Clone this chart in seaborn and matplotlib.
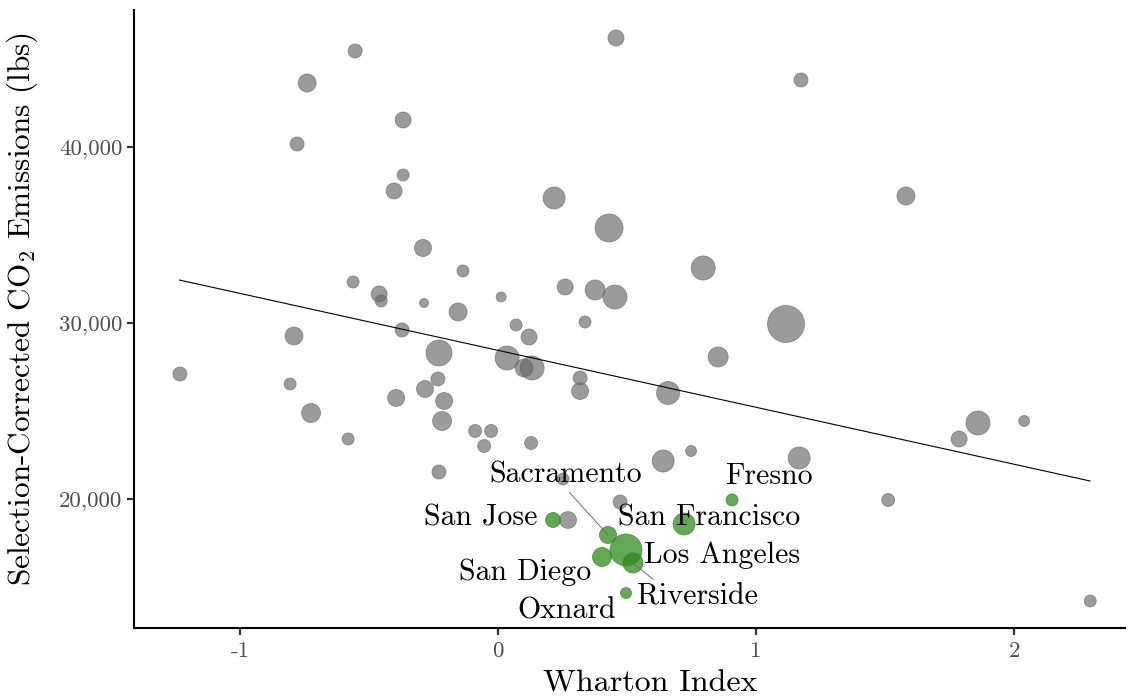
import numpy as np
import pandas as pd
import matplotlib
matplotlib.use("Agg")
import matplotlib.pyplot as plt
import seaborn as sns

# metro areas outside California (Wharton index, emissions, metro population in millions)
other_wharton = [-0.554, -0.740, 0.457, 1.174, -0.368, -0.779, -0.368, -0.403, 0.217, 1.581,
                 0.430, -0.291, 0.795, -0.562, -0.461, -0.453, -0.136, -0.287, 0.012, 0.260,
                 0.376, 0.453, 0.337, 0.070, -0.155, -0.791, -0.372, 0.120, 1.116, -0.229,
                 0.035, 0.101, 0.132, 0.853, -1.233, -0.806, -0.233, -0.283, -0.395, -0.209,
                 -0.725, -0.217, 0.318, 0.318, 0.659, -0.089, -0.027, -0.054, -0.581, 0.128,
                 -0.229, 0.640, 0.748, 1.167, 1.860, 1.787, 2.039, 0.252, 0.473, 0.271,
                 1.512, 2.295]
other_co2 = [45455, 43636, 46193, 43807, 41534, 40170, 38409, 37500, 37102, 37216,
             35398, 34261, 33125, 32330, 31648, 31250, 32955, 31136, 31477, 32045,
             31875, 31477, 30057, 29886, 30625, 29261, 29602, 29205, 29943, 28295,
             28011, 27443, 27443, 28068, 27102, 26534, 26818, 26250, 25739, 25568,
             24886, 24432, 26875, 26136, 26023, 23864, 23864, 23011, 23409, 23182,
             21534, 22159, 22727, 22330, 24318, 23409, 24432, 21136, 19830, 18807,
             19943, 14205]
other_pop = [2.45, 4.05, 3.2, 2.45, 3.2, 2.45, 1.8, 3.2, 6.05, 4.05,
             9.8, 3.61, 7.2, 1.8, 3.2, 1.8, 1.8, 1.01, 1.25, 3.2,
             5.0, 7.2, 1.8, 1.8, 4.05, 4.05, 2.45, 3.2, 17.1, 8.45,
             7.2, 4.05, 7.2, 5.0, 2.45, 1.8, 2.45, 3.61, 3.61, 3.61,
             4.51, 4.51, 2.45, 3.61, 6.61, 2.11, 2.11, 2.11, 1.8, 2.11,
             2.45, 6.05, 1.51, 6.05, 7.2, 3.2, 1.51, 1.8, 2.45, 3.61,
             2.11, 1.8]

# California metro areas
ca_names = ["San Jose", "Fresno", "San Francisco", "Sacramento",
            "Los Angeles", "San Diego", "Riverside", "Oxnard"]
ca_wharton = [0.213, 0.907, 0.721, 0.426, 0.496, 0.403, 0.523, 0.496]
ca_co2 = [18807, 19943, 18580, 17955, 17102, 16705, 16364, 14659]
ca_pop = [2.81, 1.8, 6.05, 3.61, 12.8, 4.51, 5.0, 1.51]

# fitted regression line (end points)
fit_wharton = [-1.235, 2.295]
fit_co2 = [32440, 21020]

xticks = [-1, 0, 1, 2]
xtick_labels = ["-1", "0", "1", "2"]
yticks = [20000, 30000, 40000]
ytick_labels = ["20,000", "30,000", "40,000"]

# label placement (text centre, data coords) and which ones get a leader segment
label_xy = {
    "San Jose": (-0.066, 18950),
    "Fresno": (1.050, 21300),
    "San Francisco": (0.818, 18950),
    "Sacramento": (0.264, 21350),
    "Los Angeles": (0.868, 16800),
    "San Diego": (0.105, 15830),
    "Riverside": (0.771, 14470),
    "Oxnard": (0.264, 13620),
}
label_seg = {"Sacramento": (0.5, 0.0), "Riverside": (0.17, 1.0)}

others = pd.DataFrame({"wharton": other_wharton, "co2": other_co2, "pop": other_pop})
ca = pd.DataFrame({"name": ca_names, "wharton": ca_wharton, "co2": ca_co2, "pop": ca_pop})
fit = pd.DataFrame({"wharton": fit_wharton, "co2": fit_co2})

sns.set_style("ticks")
plt.rcParams["font.family"] = ["cmr10", "DejaVu Serif"]
plt.rcParams["mathtext.fontset"] = "cm"
plt.rcParams["axes.unicode_minus"] = False

fig = plt.figure(figsize=(11.3, 6.98), dpi=100)
ax = fig.add_axes([0.1186, 0.1003, 0.877, 0.8854])

size_norm = (1, 20)
size_range = (41.5, 829.4)

sns.scatterplot(data=others, x="wharton", y="co2", size="pop", sizes=size_range,
                size_norm=size_norm, color="#666666", alpha=0.65, edgecolor="#666666",
                linewidth=0.6, legend=False, ax=ax, zorder=2)
sns.lineplot(data=fit, x="wharton", y="co2", color="black", linewidth=0.8, ax=ax, zorder=3)
sns.scatterplot(data=ca, x="wharton", y="co2", size="pop", sizes=size_range,
                size_norm=size_norm, color="#2f8a1f", alpha=0.75, edgecolor="#2f8a1f",
                linewidth=0.6, legend=False, ax=ax, zorder=4)

for name, wx, cy in zip(ca_names, ca_wharton, ca_co2):
    tx, ty = label_xy[name]
    if name in label_seg:
        ax.annotate(name, xy=(wx, cy), xytext=(tx, ty), ha="center", va="center",
                    fontsize=21.5, color="black", zorder=5,
                    arrowprops=dict(arrowstyle="-", color="#6e6e6e", lw=0.7,
                                    shrinkA=0, shrinkB=0, relpos=label_seg[name]))
    else:
        ax.text(tx, ty, name, ha="center", va="center", fontsize=21.5,
                color="black", zorder=5)

ax.set_xlim(-1.411, 2.43)
ax.set_ylim(12670, 47784)
ax.set_xticks(xticks)
ax.set_xticklabels(xtick_labels)
ax.set_yticks(yticks)
ax.set_yticklabels(ytick_labels)
ax.tick_params(axis="both", which="major", direction="out", length=5, width=1.6,
               color="#333333", labelsize=16.5, labelcolor="#4d4d4d", pad=3.5,
               bottom=True, left=True)
ax.tick_params(axis="x", pad=4.5)

ax.set_xlabel("Wharton Index", fontsize=23, color="black")
ax.set_ylabel("Selection-Corrected CO$_2$ Emissions (lbs)", fontsize=22.5, color="black")
ax.xaxis.set_label_coords(0.5207, -0.068)
ax.yaxis.set_label_coords(-0.095, 0.516)

sns.despine(ax=ax)
for side in ["left", "bottom"]:
    ax.spines[side].set_color("black")
    ax.spines[side].set_linewidth(1.5)

fig.savefig("out.png", dpi=100)
